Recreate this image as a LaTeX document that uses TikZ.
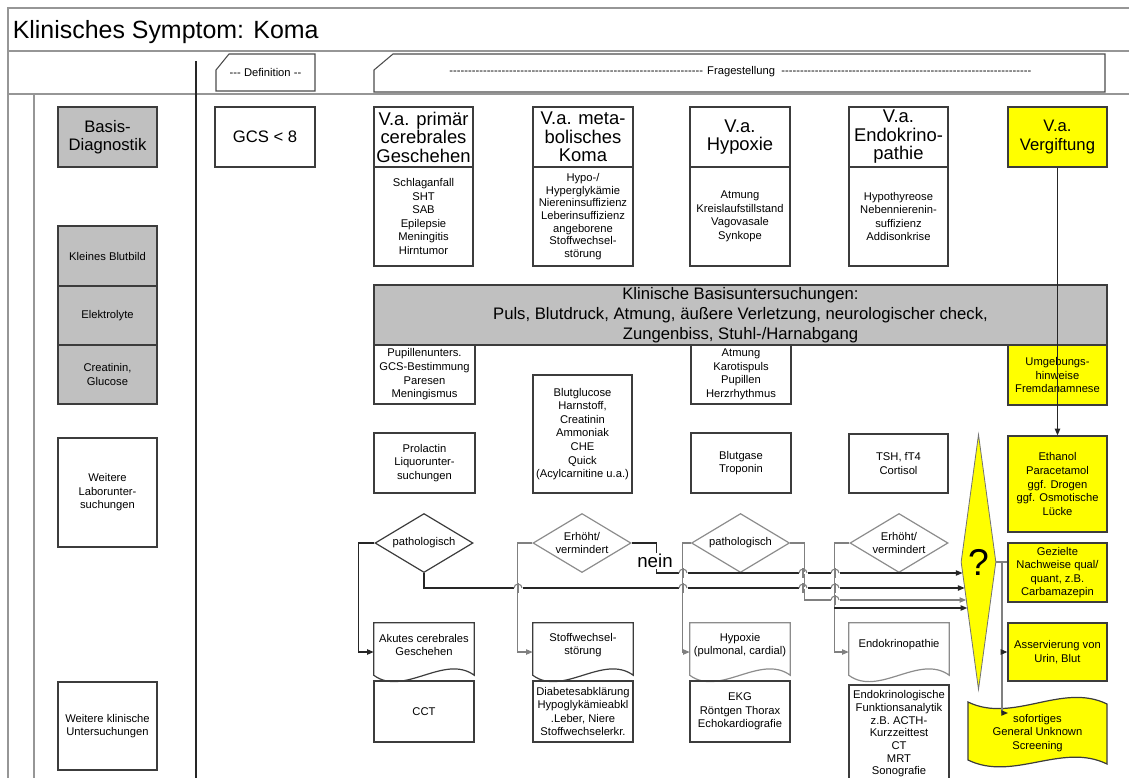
\documentclass[tikz,border=0pt]{standalone}
\usepackage{fontspec}
\setmainfont{Liberation Sans}
\usetikzlibrary{shapes.geometric,calc,arrows.meta}
\definecolor{bxgray}{RGB}{192,192,192}
\definecolor{ylw}{RGB}{255,255,0}
\definecolor{frm}{RGB}{150,150,150}
\definecolor{edg}{RGB}{60,60,60}
\newcommand{\fsm}{\fontsize{8.4}{10.2}\selectfont}
\newcommand{\fsmt}{\fontsize{8.4}{9.5}\selectfont}
\newcommand{\fhd}{\fontsize{13.8}{13.9}\selectfont}
\newcommand{\fmd}{\fontsize{12.5}{13.6}\selectfont}
\newcommand{\fbr}{\fontsize{12.5}{15}\selectfont}
\newcommand{\fti}{\fontsize{18.7}{22}\selectfont}
\newcommand{\ftb}{\fontsize{8.4}{10}\selectfont}
\newcommand{\fqm}{\fontsize{28}{30}\selectfont}
\newcommand{\fnein}{\fontsize{14}{16}\selectfont}
\newcommand{\docshape}[2]{\draw[#2] (#1.north west) -- (#1.north east) -- ([yshift=-6pt]#1.south east) .. controls +(-30,-22) and +(30,22) .. ([yshift=-6pt]#1.south west) -- cycle;}
\newcommand{\hop}[3]{\draw[white,line width=2.2pt] (#1-4.5,#2) -- (#1+4.5,#2);
  \draw[#3] (#1,#2-5) -- (#1,#2+5);
  \draw[#3] (#1-4,#2) arc[start angle=180,end angle=0,radius=3pt];}
\begin{document}
\begin{tikzpicture}[x=0.75pt,y=-0.75pt,
  sz/.style 2 args={minimum width=#1*0.75pt,minimum height=#2*0.75pt},
  box/.style={draw=edg,line width=0.9pt,inner sep=0pt,align=center,font=\fsm},
  gbox/.style={box,fill=bxgray},
  ybox/.style={box,fill=ylw},
  docn/.style={inner sep=0pt,align=center,font=\fsm},
  dia/.style={diamond,aspect=1.66,minimum width=73.5pt,minimum height=44.25pt,inner sep=0pt,align=center,font=\fsm,line width=0.9pt},
  qdia/.style={diamond,aspect=0.137,minimum width=26.25pt,minimum height=191.25pt,inner sep=0pt,fill=ylw,draw=black!55,line width=0.6pt,font=\fqm},
  dk/.style={draw=black!85,line width=0.9pt},
  lg/.style={draw=black!50,line width=0.8pt},
  tip/.style={-{Triangle[length=5pt,width=4pt]}},
  frl/.style={draw=frm,line width=1.5pt}]
\useasboundingbox (0,0) rectangle (1129,778);
% frame
\draw[frl] (1129,8) -- (8,8) -- (8,778);
\draw[frl] (8,51) -- (1129,51);
\draw[frl] (8,94) -- (1129,94);
\draw[frl] (34,94) -- (34,778);
\draw[draw=black!85,line width=1pt] (196,61) -- (196,778);
\node[anchor=base west,font=\fti,inner sep=0pt] (title) at (12.5,38.6) {Klinisches Symptom: Koma};
% tabs
\draw[draw=black!70,line width=0.8pt] (216,70) -- (229,54) -- (315,54) -- (315,91) -- (216,91) -- cycle;
\node[font=\ftb,inner sep=0pt] (deft) at (265.5,72) {-{}-{}- Definition -{}-};
\draw[draw=black!70,line width=0.8pt] (374,70) -- (393,54) -- (1105,54) -- (1105,92) -- (374,92) -- cycle;
\node[font=\ftb,inner sep=0pt] (frage) at (740.5,72) {\leaders\hbox{-}\hskip 191pt\ Fragestellung\ \leaders\hbox{-}\hskip 190pt\null};
% left column
\node[gbox,font=\fmd,sz={99}{60}] (basis) at (107.5,137) {Basis-\\Diagnostik};
\node[gbox,sz={99}{60}] (kbb) at (107.5,256) {Kleines Blutbild};
\node[gbox,sz={99}{59}] (elek) at (107.5,315.5) {Elektrolyte};
\node[gbox,sz={99}{59}] (crea) at (107.5,374.5) {Creatinin,\\Glucose};
\node[box,sz={99}{109}] (wlab) at (107.5,492.5) {Weitere\\Laborunter-\\suchungen};
\node[box,sz={99}{88}] (wkl) at (107.5,726) {Weitere klinische\\Untersuchungen};
\node[box,font=\fmd,sz={100}{60}] (gcs) at (265,137) {GCS < 8};
% column headers
\node[box,font=\fhd,sz={99}{60}] (h1) at (423.5,137) {V.a. primär\\cerebrales\\Geschehen};
\node[box,sz={99}{99}] (l1) at (423.5,216.5) {Schlaganfall\\SHT\\SAB\\Epilepsie\\Meningitis\\Hirntumor};
\node[box,font=\fhd,sz={100}{60}] (h2) at (583,137) {V.a. meta-\\bolisches\\Koma};
\node[box,font=\fsmt,sz={100}{99}] (l2) at (583,216.5) {Hypo-/\\Hyperglykämie\\Niereninsuffizienz\\Leberinsuffizienz\\angeborene\\Stoffwechsel-\\störung};
\node[box,font=\fhd,sz={100}{60}] (h3) at (740,137) {V.a.\\Hypoxie};
\node[box,sz={100}{99}] (l3) at (740,216.5) {Atmung\\Kreislaufstillstand\\Vagovasale\\Synkope};
\node[box,font=\fhd,sz={99}{60}] (h4) at (898.5,137) {V.a.\\Endokrino-\\pathie};
\node[box,sz={99}{99}] (l4) at (898.5,216.5) {Hypothyreose\\Nebennierenin-\\suffizienz\\Addisonkrise};
\node[ybox,font=\fmd,sz={99}{60}] (vg) at (1057.5,137) {V.a.\\Vergiftung};
% bar
\node[gbox,font=\fbr,sz={733}{60}] (kb) at (740.5,315) {Klinische Basisuntersuchungen:\\Puls, Blutdruck, Atmung, äußere Verletzung, neurologischer check,\\Zungenbiss, Stuhl-/Harnabgang};
% rows
\node[box,sz={101}{59}] (pu) at (424.5,374.5) {Pupillenunters.\\GCS-Bestimmung\\Paresen\\Meningismus};
\node[box,sz={100}{59}] (at) at (741,374.5) {Atmung\\Karotispuls\\Pupillen\\Herzrhythmus};
\node[ybox,sz={99}{60}] (um) at (1057.5,375) {Umgebungs-\\hinweise\\Fremdanamnese};
\node[box,sz={99}{118}] (bg) at (582.5,434) {Blutglucose\\Harnstoff,\\Creatinin\\Ammoniak\\CHE\\Quick\\(Acylcarnitine u.a.)};
\node[box,sz={101}{60}] (pr) at (424.5,463) {Prolactin\\Liquorunter-\\suchungen};
\node[box,sz={100}{60}] (bga) at (741,463) {Blutgase\\Troponin};
\node[box,sz={99}{59}] (tsh) at (898.5,463.5) {TSH, fT4\\Cortisol};
\node[ybox,sz={99}{96}] (eth) at (1057.5,484) {Ethanol\\Paracetamol\\ggf. Drogen\\ggf. Osmotische\\Lücke};
\node[ybox,sz={99}{59}] (gez) at (1057.5,572.5) {Gezielte\\Nachweise qual/\\quant, z.B.\\Carbamazepin};
\node[ybox,sz={99}{58}] (ass) at (1057.5,652) {Asservierung von\\Urin, Blut};
% GUS tape
\draw[draw=edg,line width=0.9pt,fill=ylw] (968,702) .. controls +(45,22) and +(-45,-22) .. (1107,704) -- (1107,764) .. controls +(-45,-22) and +(45,22) .. (968,760) -- cycle;
\node[docn,sz={139}{54}] (gus) at (1037.5,733) {sofortiges\\General Unknown\\Screening};
% decisions
\node[dia,draw=edg] (d1) at (424,543) {pathologisch};
\node[dia,draw=black!45] (d2) at (582,543) {Erhöht/\\vermindert};
\node[dia,draw=black!45] (d3) at (740.5,543) {pathologisch};
\node[dia,draw=black!45] (d4) at (899,543) {Erhöht/\\vermindert};
\node[qdia] (q) at (978.5,562) {?};
% documents
\node[docn,sz={100}{44}] (doc1) at (424,645) {Akutes cerebrales\\Geschehen};
\docshape{doc1}{draw=edg,line width=0.9pt}
\node[docn,sz={100}{44}] (doc2) at (583,645) {Stoffwechsel-\\störung};
\docshape{doc2}{draw=edg,line width=0.9pt}
\node[docn,sz={100}{44}] (doc3) at (740,645) {Hypoxie\\(pulmonal, cardial)};
\docshape{doc3}{draw=black!45,line width=0.9pt}
\node[docn,sz={100}{44}] (doc4) at (899,645) {Endokrinopathie};
\docshape{doc4}{draw=black!45,line width=0.9pt}
\node[box,sz={100}{61}] (cct) at (424,711.5) {CCT};
\node[box,sz={100}{61}] (diab) at (583,711.5) {Diabetesabklärung\\Hypoglykämieabkl\\.Leber, Niere\\Stoffwechselerkr.};
\node[box,sz={100}{61}] (ekg) at (740,711.5) {EKG\\Röntgen Thorax\\Echokardiografie};
\node[box,sz={100}{130}] (endo) at (899,750) {};
\node[docn,font=\fsmt] (endot) at (899,734) {Endokrinologische\\Funktionsanalytik\\z.B. ACTH-\\Kurzzeittest\\CT\\MRT\\Sonografie};
% connectors
\coordinate (q1) at (962.5,573);
\coordinate (q2) at (964.6,588);
\coordinate (q3) at (966.2,600);
\coordinate (q4) at (967.3,608);
\draw[dk,tip] (d1.west) -- ++(-16,0) |- ($(doc1.west)+(0,7)$);
\draw[dk,tip] (d1.south) |- (q2);
\draw[lg,tip] (d2.west) -- ++(-15,0) |- ($(doc2.west)+(0,7)$);
\draw[dk,tip] (d2.east) -- ++(25,0) |- (q1);
\draw[lg,tip] (d3.west) -- ++(-8.5,0) |- ($(doc3.west)+(0,7)$);
\draw[lg,tip] (d3.east) -- ++(14,0) |- (q3);
\draw[lg,tip] (d4.west) -- ++(-15,0) coordinate (d4k) |- ($(doc4.west)+(0,7)$);
\draw[dk,tip] (d4k |- q4) -- (q4);
% hops
\hop{518}{588}{lg}
\hop{683}{588}{lg}
\hop{683}{573}{lg}
\hop{803}{588}{lg}
\hop{803}{573}{lg}
\hop{835}{588}{lg}
\hop{835}{573}{lg}
\hop{835}{600}{lg}
\node[font=\fnein,fill=white,inner sep=1pt] (nein) at (655,561) {nein};
% right side
\draw[dk,tip] (vg.south) -- (eth.north);
\coordinate (rv) at (1002,562);
\coordinate (gusin) at (1008,713);
\draw[lg] (q.east) -- (gez.west |- rv);
\draw[lg] (rv) -- (rv |- gusin);
\draw[dk,tip] (rv |- ass.west) -- (ass.west);
\draw[dk,tip] (rv |- gusin) -- (gusin);
\end{tikzpicture}
\end{document}
